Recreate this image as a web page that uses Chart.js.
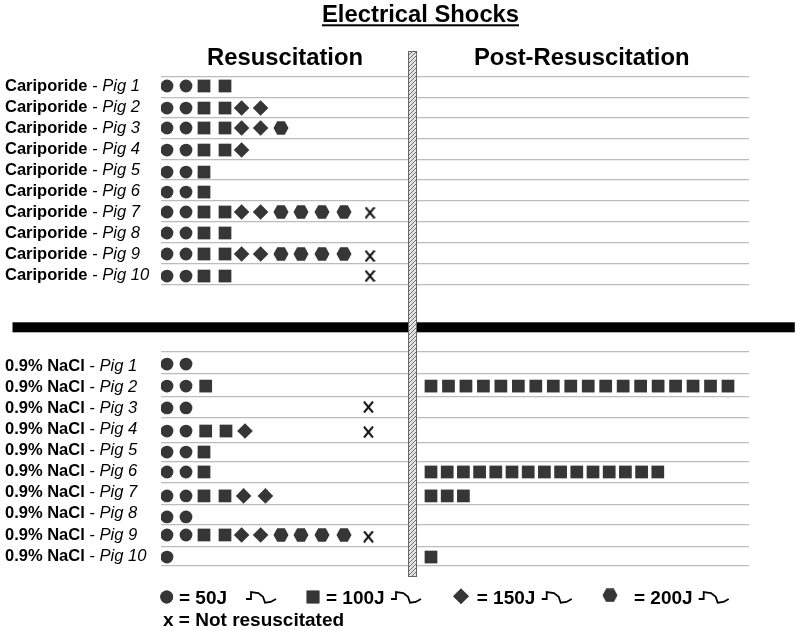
<!DOCTYPE html>
<html><head><meta charset="utf-8">
<style>html,body{margin:0;padding:0;background:#fff}canvas{display:block}</style>
<script src="https://cdn.jsdelivr.net/npm/chart.js@4"></script>
</head><body><canvas id="c" width="800" height="631" style="width:800px;height:631px"></canvas>
<script>
// ---- data (one entry per pig: 10 Cariporide, then 10 NaCl) ----
const groupNames = ["Cariporide", "0.9% NaCl"];
const pigNumbers = [1,2,3,4,5,6,7,8,9,10];
const resus50J   = [2,2,2,2,2,2,2,2,2,2,  2,2,2,2,2,2,2,2,2,1];
const resus100J  = [2,2,2,2,1,1,2,2,2,2,  0,1,0,2,1,1,2,0,2,0];
const resus150J  = [0,2,2,1,0,0,2,0,2,0,  0,0,0,1,0,0,2,0,2,0];
const resus200J  = [0,0,1,0,0,0,4,0,4,0,  0,0,0,0,0,0,0,0,4,0];
const notResus   = [0,0,0,0,0,0,1,0,1,1,  0,0,1,1,0,0,0,0,1,0];
const post100J   = [0,0,0,0,0,0,0,0,0,0,  0,18,0,0,0,15,3,0,0,1];
const energyLabels = ["50J","100J","150J","200J"];

// ---- layout: axis units are "shock slots" (x) and "row heights" (y) ----
const slotX = [1,1.95,2.85,3.9,4.73,5.68,6.7,7.7,8.75,9.85];
const slotOverride = {11:{2:2.935}, 13:{2:2.935,3:3.95,4:4.9}, 16:{4:4.83,5:5.92}};
const postStart = 14.2;
const postPitch = {11:0.8735, 15:0.81, 16:0.81, 19:0.81};
const notResusX = [11.15, 11.07];
const markerRow = [0,1.05,2,3.05,4.1,5.05,6,7,8,9.05, 13.24,14.29,15.33,16.43,17.43,18.38,19.52,20.52,21.38,22.43];
const xNudge = {8:0.1, 13:0.05, 18:0.08, 12:-0.04, 6:0.03};
const labelRow = [0,1,2,3,4,5,6,7,8,9, 13.29,14.29,15.29,16.29,17.29,18.29,19.29,20.29,21.38,22.38];
const separators = [-0.43,0.55,1.52,2.52,3.5,4.48,5.48,6.48,7.48,8.45,9.45,
                    12.67,13.71,14.81,15.8,16.99,17.89,18.9,19.95,20.9,21.95,22.86];
const INK = "#363636", FONT = '"Liberation Sans", Arial, sans-serif';

// custom point styles
function makeHex(){
  const c = document.createElement("canvas"); c.width = 16; c.height = 14;
  const g = c.getContext("2d"); g.fillStyle = INK; g.beginPath();
  [[0.5,7],[4.2,0.3],[11.8,0.3],[15.5,7],[11.8,13.7],[4.2,13.7]].forEach((p,i)=> i?g.lineTo(p[0],p[1]):g.moveTo(p[0],p[1]));
  g.closePath(); g.fill(); return c;
}
function makeCross(){
  const c = document.createElement("canvas"); c.width = 11; c.height = 12;
  const g = c.getContext("2d"); g.strokeStyle = "#111"; g.lineWidth = 2; g.beginPath();
  g.moveTo(1,0.5); g.lineTo(10,11.5); g.moveTo(10,0.5); g.lineTo(1,11.5); g.stroke(); return c;
}
const hex = makeHex(), cross = makeCross();

// build points
const p50=[],p100=[],p150=[],p200=[],pX=[],pPost=[];
for(let r=0;r<20;r++){
  let s=0; const y=markerRow[r];
  const add=(arr,n)=>{for(let i=0;i<n;i++,s++){const o=slotOverride[r];arr.push({x:(o&&o[s]!==undefined)?o[s]:slotX[s],y});}};
  add(p50,resus50J[r]); add(p100,resus100J[r]); add(p150,resus150J[r]); add(p200,resus200J[r]);
  if(notResus[r]) pX.push({x:notResusX[r<10?0:1],y:y+(xNudge[r]||0)});
  for(let i=0;i<post100J[r];i++) pPost.push({x:postStart+i*(postPitch[r]||0.81),y});
}
const ds=(label,data,style,radius,extra)=>Object.assign({label,data,pointStyle:style,pointRadius:radius,pointHoverRadius:radius,
  backgroundColor:INK,borderColor:INK,borderWidth:0,showLine:false},extra||{});

function hatch(ctx){
  const c=document.createElement("canvas"); c.width=4;c.height=4;
  const g=c.getContext("2d"); g.fillStyle="#e4e4e4";g.fillRect(0,0,4,4);
  g.strokeStyle="#6e6e6e";g.lineWidth=1;g.beginPath();g.moveTo(-1,1);g.lineTo(1,-1);g.moveTo(0,4);g.lineTo(4,0);g.moveTo(3,5);g.lineTo(5,3);g.stroke();
  return ctx.createPattern(c,"repeat");
}

const decor={id:"decor",afterDraw(chart){
  const ctx=chart.ctx, ys=chart.scales.y, H=Chart.helpers;
  ctx.save();
  // heavy divider and hatched vertical bar
  ctx.fillStyle="#000"; ctx.fillRect(12.5,322.3,782.3,10);
  ctx.fillStyle=hatch(ctx); ctx.fillRect(408.5,51.5,8,525);
  ctx.strokeStyle="#666"; ctx.lineWidth=1; ctx.strokeRect(408.5,51.5,8,525);
  // titles
  ctx.fillStyle="#000"; ctx.textBaseline="alphabetic"; ctx.textAlign="left";
  ctx.font="bold 23.8px "+FONT;
  ctx.fillText("Electrical Shocks",322,22);
  ctx.fillRect(322,24.3,197,2);
  ctx.fillText("Resuscitation",207,65);
  ctx.fillText("Post-Resuscitation",474,65);
  // row labels
  for(let r=0;r<20;r++){
    const y=ys.getPixelForValue(labelRow[r])+5.5;
    const g=groupNames[r<10?0:1], n=pigNumbers[r%10];
    ctx.font="bold 16.5px "+FONT; ctx.fillText(g,5,y);
    let x=5+ctx.measureText(g).width;
    ctx.font="16.6px "+FONT; ctx.fillText(" - ",x,y); x+=ctx.measureText(" - ").width;
    ctx.font="italic 16.6px "+FONT; ctx.fillText("Pig "+n,x,y);
  }
  // legend
  const mk=(style,r,x,y)=>H.drawPoint(ctx,{pointStyle:style,radius:r,rotation:0,borderWidth:0},x,y);
  ctx.fillStyle=INK;ctx.strokeStyle=INK;
  ctx.beginPath();mk("circle",6.4,166.7,597);ctx.fill();
  ctx.beginPath();mk("rect",9,313,597);ctx.fill();
  ctx.beginPath();mk("rectRot",7.8,461,596.3);ctx.fill();
  ctx.drawImage(hex,602,588.3);
  ctx.fillStyle="#000";ctx.font="bold 19px "+FONT;
  const tx=[179,326,476.7,634], wx=[246,391,541.7,698.7];
  energyLabels.forEach((e,i)=>ctx.fillText("= "+e,tx[i],604));
  ctx.fillText("x = Not resuscitated",163,625.5);
  ctx.strokeStyle="#000";ctx.lineWidth=1.8;ctx.lineJoin="miter";
  wx.forEach(x0=>{ctx.beginPath();
    [[0,0],[5,0],[5,-7],[12.3,-6],[17,-2.3],[19,3.7],[24.7,3],[30,0]].forEach((p,i)=>i?ctx.lineTo(x0+p[0],599+p[1]):ctx.moveTo(x0+p[0],599+p[1]));
    ctx.stroke();});
  ctx.restore();
}};

new Chart(document.getElementById("c"),{
  type:"scatter",
  data:{datasets:[
    ds("50J",p50,"circle",6.4),
    ds("100J",p100,"rect",9),
    ds("150J",p150,"rectRot",7.8),
    ds("200J",p200,hex,7),
    ds("Not resuscitated",pX,cross,6),
    ds("100J post-resuscitation",pPost,"rect",9)
  ]},
  options:{
    responsive:false,animation:false,devicePixelRatio:1,
    layout:{padding:{left:161,right:51,top:60,bottom:51}},
    plugins:{legend:{display:false},tooltip:{enabled:false},title:{display:false}},
    scales:{
      x:{type:"linear",display:false,min:0.7,max:30.1},
      y:{type:"linear",reverse:true,min:-1.238,max:23.524,border:{display:false},
         grid:{color:"#bcbcbc",lineWidth:1.3,drawTicks:false},ticks:{display:false},
         afterBuildTicks(s){s.ticks=separators.map(v=>({value:v}));}}
    }
  },
  plugins:[decor]
});
</script></body></html>
